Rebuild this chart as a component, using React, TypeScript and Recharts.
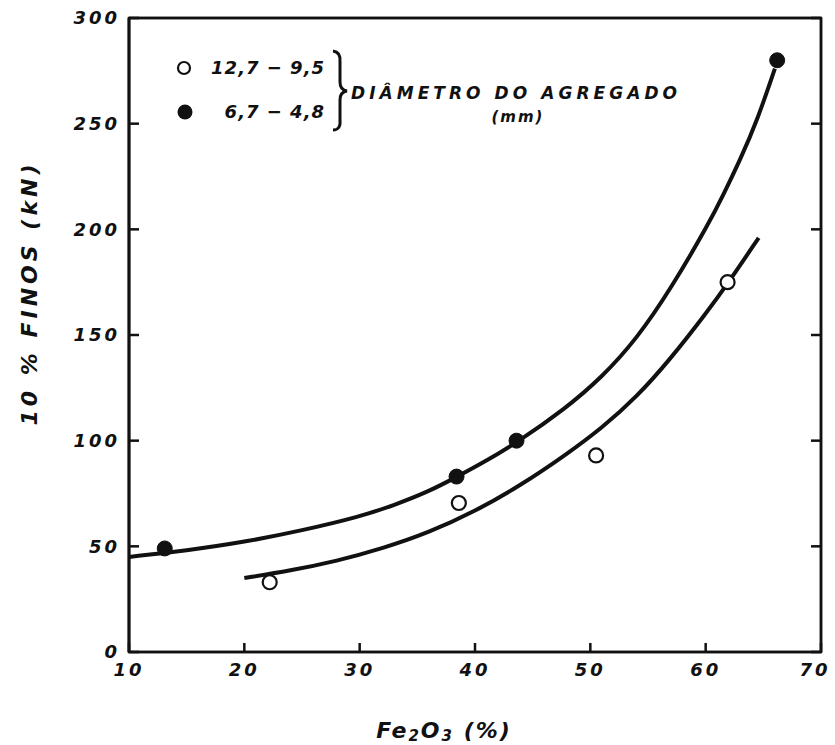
import { ComposedChart, Line, Scatter, XAxis, YAxis, Legend, Label, ReferenceArea } from 'recharts'

const xTicks = [10, 20, 30, 40, 50, 60, 70]
const yTicks = [0, 50, 100, 150, 200, 250, 300]

// 12,7 - 9,5 mm (open circles)
const coarsePoints = [
  { x: 22.2, y: 33 },
  { x: 38.6, y: 70.5 },
  { x: 50.5, y: 93 },
  { x: 61.9, y: 175 },
]
// 6,7 - 4,8 mm (filled circles)
const finePoints = [
  { x: 13.1, y: 49 },
  { x: 38.4, y: 83 },
  { x: 43.6, y: 100 },
  { x: 66.2, y: 280 },
]

// fitted curves
const coarseCurve = [
  { x: 20, y: 35 },
  { x: 24, y: 38.5 },
  { x: 28, y: 43 },
  { x: 32, y: 49 },
  { x: 36, y: 56.5 },
  { x: 40, y: 66.5 },
  { x: 44, y: 79 },
  { x: 47.8, y: 93 },
  { x: 51, y: 106 },
  { x: 54, y: 120.5 },
  { x: 57, y: 139 },
  { x: 60, y: 160 },
  { x: 62, y: 175 },
  { x: 64.6, y: 196 },
]
const fineCurve = [
  { x: 10, y: 45 },
  { x: 15, y: 48 },
  { x: 20, y: 52 },
  { x: 25, y: 57.5 },
  { x: 30, y: 64 },
  { x: 33, y: 69.5 },
  { x: 36, y: 76 },
  { x: 38.3, y: 82.5 },
  { x: 41, y: 90.5 },
  { x: 43.6, y: 99 },
  { x: 47.8, y: 115 },
  { x: 51, y: 130 },
  { x: 54, y: 148 },
  { x: 57, y: 172 },
  { x: 60.3, y: 203 },
  { x: 61.5, y: 216 },
  { x: 63, y: 233 },
  { x: 64.5, y: 252 },
  { x: 66, y: 276 },
]

const FONT = "'DejaVu Sans', sans-serif"
const ink = '#111'

const textStyle = {
  fontFamily: FONT,
  fontStyle: 'italic' as const,
  fontWeight: 700,
  fill: ink,
}

const tickStroke = { stroke: ink, strokeWidth: 2.5 }

const LeftTick = (props: any) => {
  const { x, y, payload } = props
  return (
    <text x={x} y={y} dy="0.36em" textAnchor="end" fontSize={18} letterSpacing={3} {...textStyle}>
      {payload.value}
    </text>
  )
}

const BottomTick = (props: any) => {
  const { x, y, payload } = props
  const shift = Number(payload.value) === 70 ? -6 : 0
  return (
    <text x={x + shift} y={y} dy="0.71em" textAnchor="middle" fontSize={18} letterSpacing={3} {...textStyle}>
      {payload.value}
    </text>
  )
}

const NoLabel = () => <g />

const OpenDot = (props: any) => (
  <circle cx={props.cx} cy={props.cy} r={7} fill="#fff" stroke={ink} strokeWidth={2.2} />
)
const FilledDot = (props: any) => (
  <circle cx={props.cx} cy={props.cy} r={7.5} fill={ink} stroke={ink} strokeWidth={1} />
)

const renderLegend = () => (
  <svg width={835} height={140} style={{ display: 'block' }}>
    <circle cx={184} cy={68} r={6} fill="#fff" stroke={ink} strokeWidth={2.2} />
    <circle cx={185} cy={112} r={7.5} fill={ink} />
    <text x={325} y={68} dy="0.36em" textAnchor="end" fontSize={18} letterSpacing={1} {...textStyle}>
      12,7 − 9,5
    </text>
    <text x={325} y={112} dy="0.36em" textAnchor="end" fontSize={18} letterSpacing={1} {...textStyle}>
      6,7 − 4,8
    </text>
    <path
      d="M333,51 Q341,52 340,62 L340,82 Q340,90 347,91 Q340,92 340,100 L340,120 Q341,130 333,130"
      fill="none"
      stroke={ink}
      strokeWidth={3}
    />
    <text x={351} y={93} dy="0.36em" fontSize={17} textLength={326} lengthAdjust="spacing" {...textStyle}>
      DIÂMETRO DO AGREGADO
    </text>
    <text x={518} y={117} dy="0.36em" textAnchor="middle" fontSize={15} letterSpacing={2} {...textStyle}>
      (mm)
    </text>
  </svg>
)

const YTitle = (props: any) => {
  const vb = props.viewBox || { x: 69 }
  return (
    <text
      transform={`translate(${vb.x - 32}, 293) rotate(-90)`}
      textAnchor="middle"
      fontSize={22}
      letterSpacing={4}
      {...textStyle}
    >
      10 % FINOS (kN)
    </text>
  )
}

const XTitle = (props: any) => {
  const vb = props.viewBox || { y: 652 }
  return (
    <text x={444} y={vb.y + 86} textAnchor="middle" fontSize={22} letterSpacing={2} {...textStyle}>
      Fe<tspan fontSize={15} dy={3}>2</tspan>
      <tspan dy={-3}>O</tspan>
      <tspan fontSize={15} dy={3}>3</tspan>
      <tspan dy={-3}> (%)</tspan>
    </text>
  )
}

export default function App() {
  return (
    <div style={{ position: 'absolute', left: 0, top: 0, width: 835, height: 745, background: '#fff' }}>
      <ComposedChart width={835} height={745} margin={{ top: 17, right: 13, bottom: 53, left: 69 }}>
        <XAxis
          type="number"
          dataKey="x"
          domain={[10, 70]}
          ticks={xTicks}
          allowDataOverflow
          height={40}
          tickSize={-9}
          tickMargin={20}
          tickLine={tickStroke}
          tick={<BottomTick />}
          axisLine={{ stroke: ink, strokeWidth: 2.5 }}
        >
          <Label content={<XTitle />} />
        </XAxis>
        <XAxis
          xAxisId="top"
          orientation="top"
          type="number"
          dataKey="x"
          domain={[10, 70]}
          allowDataOverflow
          height={1}
          tick={false}
          tickLine={false}
          axisLine={{ stroke: ink, strokeWidth: 2.5 }}
        />
        <YAxis
          type="number"
          domain={[0, 300]}
          ticks={yTicks}
          allowDataOverflow
          width={60}
          tickSize={-10}
          tickMargin={19}
          tickLine={tickStroke}
          tick={<LeftTick />}
          axisLine={{ stroke: ink, strokeWidth: 3 }}
        >
          <Label content={<YTitle />} />
        </YAxis>
        <YAxis
          yAxisId="right"
          orientation="right"
          type="number"
          domain={[0, 300]}
          ticks={yTicks}
          allowDataOverflow
          width={1}
          tickSize={-10}
          tickLine={tickStroke}
          tick={<NoLabel />}
          axisLine={{ stroke: ink, strokeWidth: 2.5 }}
        />
        <ReferenceArea x1={10} x2={70} y1={0} y2={300} fill="none" stroke={ink} strokeWidth={2.5} />
        <Legend
          content={renderLegend}
          layout="vertical"
          align="center"
          verticalAlign="middle"
          wrapperStyle={{ position: 'absolute', left: 0, top: 0, width: 835, height: 140, pointerEvents: 'none' }}
        />
        <Line
          data={fineCurve}
          dataKey="y"
          type="basis"
          stroke={ink}
          strokeWidth={4}
          dot={false}
          activeDot={false}
          isAnimationActive={false}
          legendType="none"
        />
        <Line
          data={coarseCurve}
          dataKey="y"
          xAxisId="top"
          yAxisId="right"
          type="basis"
          stroke={ink}
          strokeWidth={4}
          dot={false}
          activeDot={false}
          isAnimationActive={false}
          legendType="none"
        />
        <Scatter
          data={coarsePoints}
          dataKey="y"
          xAxisId="top"
          yAxisId="right"
          shape={<OpenDot />}
          isAnimationActive={false}
        />
        <Scatter data={finePoints} dataKey="y" shape={<FilledDot />} isAnimationActive={false} />
      </ComposedChart>
    </div>
  )
}
